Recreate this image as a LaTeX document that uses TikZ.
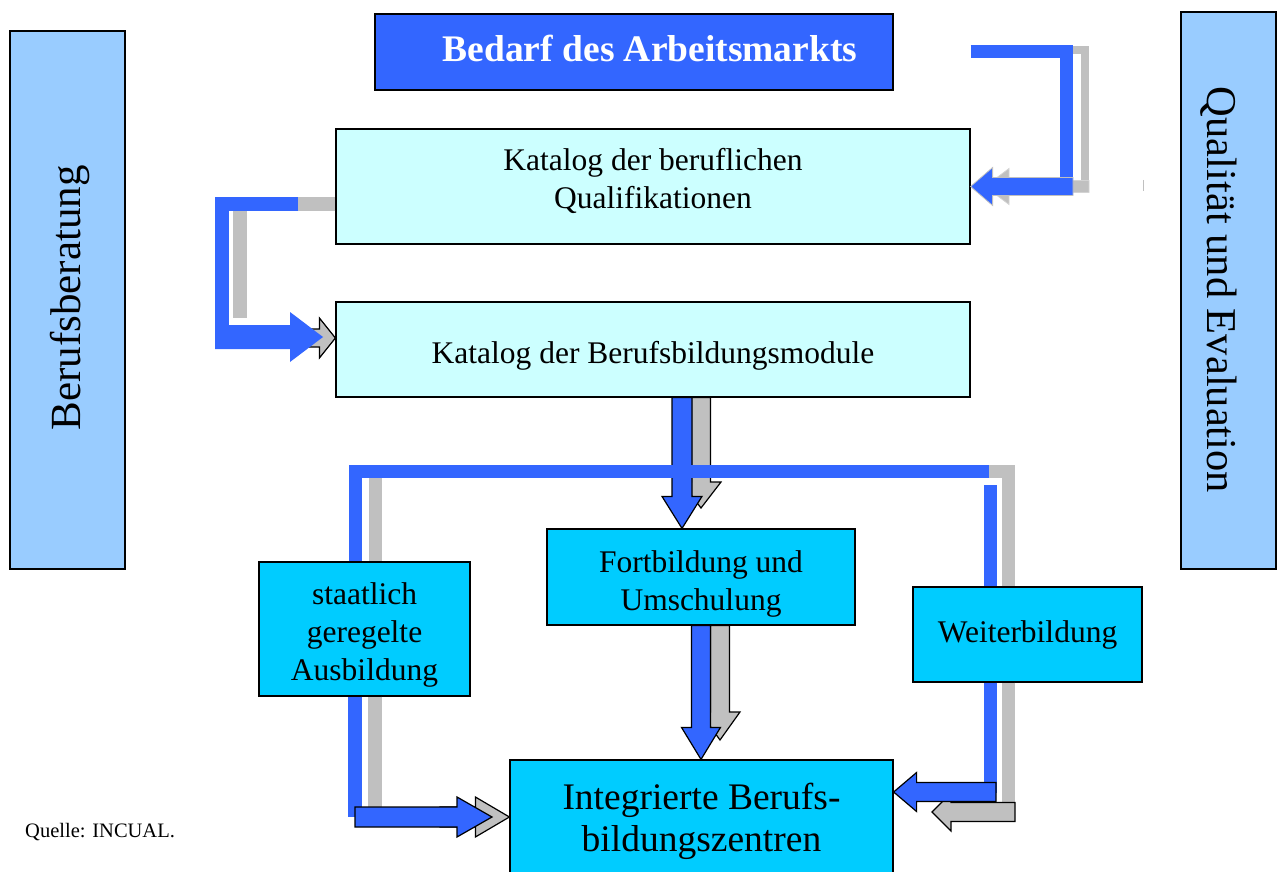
\documentclass[tikz,border=0pt]{standalone}
\usepackage{fontspec}
\setmainfont{Liberation Serif}
\usetikzlibrary{calc}
\definecolor{arrblue}{RGB}{51,102,255}
\definecolor{shadegray}{RGB}{192,192,192}
\definecolor{palecyan}{RGB}{204,255,255}
\definecolor{boxcyan}{RGB}{0,204,255}
\definecolor{sideblue}{RGB}{153,204,255}
% block arrow: [style]{start}{tip}{shaft half width}{head half width}{head length}
\newcommand\blockarr[6][]{%
  \coordinate (ba-s) at (#2);
  \coordinate (ba-t) at (#3);
  \coordinate (ba-b) at ($(ba-t)!#6!(ba-s)$);
  \path[#1] ($(ba-s)!#4!90:(ba-t)$) -- ($(ba-b)!#4!90:(ba-t)$) -- ($(ba-b)!#5!90:(ba-t)$)
    -- (ba-t) -- ($(ba-b)!#5!-90:(ba-t)$) -- ($(ba-b)!#4!-90:(ba-t)$) -- ($(ba-s)!#4!-90:(ba-t)$) -- cycle;}
\begin{document}
\begin{tikzpicture}[x=1pt,y=-1pt,every node/.style={inner sep=0pt},
  sidebox/.style={draw=black,line width=1.2pt,fill=sideblue},
  katbox/.style={draw=black,line width=1.2pt,fill=palecyan,align=center,font=\fontsize{31.5}{38}\selectfont},
  pathbox/.style={draw=black,line width=1.2pt,fill=boxcyan,align=center,font=\fontsize{31.5}{38}\selectfont},
  bluebar/.style={draw=arrblue,line width=13pt},
  graybar/.style={draw=shadegray,line width=13pt},
  bluearr/.style={fill=arrblue,draw=black,line width=1.2pt},
  grayarr/.style={fill=shadegray,draw=black,line width=1.2pt},
  softblue/.style={fill=arrblue,draw=shadegray,line width=0.8pt},
  softgray/.style={fill=shadegray,draw=shadegray!70,line width=0.8pt}]
\useasboundingbox (0,0) rectangle (1278,872);
% side columns
\node[sidebox,minimum width=115pt,minimum height=538pt] (beratung) at (67.5,300) {};
\node[rotate=90,font=\fontsize{43}{48}\selectfont] at (70,298) {Berufsberatung};
\node[sidebox,minimum width=95pt,minimum height=557pt] (qualitaet) at (1228.5,290.5) {};
\node[rotate=-90,font=\fontsize{42.5}{48}\selectfont] at (1218.5,290) {Qualität und Evaluation};
% top title
\node[draw=black,line width=2pt,fill=arrblue,minimum width=518pt,minimum height=76pt] (bedarf) at (634,52) {};
\node[text=white,font=\fontsize{37.5}{42}\selectfont\bfseries] at (650,48) {Bedarf des Arbeitsmarkts};
% catalogues
\node[katbox,minimum width=634pt,minimum height=115pt,text height=60pt,text depth=16.5pt] (qualif) at (653,186.5) {Katalog der beruflichen\\Qualifikationen};
\node[katbox,minimum width=634pt,minimum height=95pt,text height=35pt,text depth=7pt] (module) at (653,349.5) {Katalog der Berufsbildungsmodule};
% training paths
\node[pathbox,minimum width=308pt,minimum height=96pt,text height=72pt,text depth=5.5pt] (fortb) at (701,577) {Fortbildung und\\Umschulung};
\node[pathbox,minimum width=211pt,minimum height=134pt,text height=108pt,text depth=5.5pt] (staatl) at (364.5,629) {staatlich\\geregelte\\Ausbildung};
\node[pathbox,minimum width=229pt,minimum height=95pt] (weiter) at (1027.5,634.5) {Weiterbildung};
\node[pathbox,minimum width=383pt,minimum height=122pt,font=\fontsize{37.5}{42}\selectfont] (zentren) at (701.5,821) {Integrierte Berufs-\\bildungszentren};
\node[anchor=west,font=\fontsize{20.5}{24}\selectfont] (quelle) at (25,832) {Quelle: INCUAL.};
% top right loop back to the qualifications
\draw[graybar,line width=8pt] (1060,50) -- (1085,50) -- (1085,186.5);
\blockarr[softgray]{1089,186.5}{985,186.5}{6pt}{18pt}{24pt}
\draw[bluebar] (qualif.east |- bedarf.center) -- (1066,52) -- (1066,180);
\blockarr[softblue]{1073,186.5}{qualif.east}{9pt}{19pt}{22pt}
\draw[shadegray,line width=1pt] (1143,180) -- (1143,191);
% left loop to the modules
\draw[graybar,line width=14pt] (qualif.west |- 0,204) -- (240,204) -- (240,318);
\blockarr[grayarr]{300,338}{module.west |- 0,338}{9pt}{20pt}{16pt}
\draw[bluebar,line width=14pt] (298,204) -- (222,204) -- (222,337);
\blockarr[fill=arrblue]{215,337}{323,337}{12pt}{25pt}{33pt}
% modules down to the paths
\blockarr[grayarr]{701,0 |- module.south}{701,508}{9.5pt}{20pt}{26pt}
\blockarr[bluearr]{682,0 |- module.south}{682,0 |- fortb.north}{10pt}{20pt}{32pt}
\draw[graybar] (375,478) -- (375,0 |- staatl.north);
\draw[graybar] (975,471) -- (1008,471) -- (1008,0 |- weiter.north);
\draw[bluebar] (355,0 |- staatl.north) -- (355,471) -- (989,471);
\draw[bluebar] (990,485) -- (990,0 |- weiter.north);
% paths down to the centres
\blockarr[grayarr]{720,0 |- fortb.south}{720,740}{9.5pt}{20pt}{28pt}
\blockarr[bluearr]{fortb.south}{fortb.south |- zentren.north}{9.5pt}{19.5pt}{32pt}
\draw[graybar,line width=14pt] (375,0 |- staatl.south) -- (375,807);
\draw[bluebar,line width=14pt] (355,0 |- staatl.south) -- (355,817);
\blockarr[grayarr]{440,817}{zentren.west |- 0,817}{10pt}{20pt}{34pt}
\blockarr[bluearr]{355,817}{492,817}{10pt}{20pt}{35pt}
\draw[graybar] (1008,0 |- weiter.south) -- (1008,812);
\blockarr[grayarr]{1015,812}{932,812}{9.5pt}{19pt}{19pt}
\draw[bluebar] (990,0 |- weiter.south) -- (990,793);
\blockarr[bluearr]{996,792}{zentren.east |- 0,792}{9.5pt}{19.5pt}{23pt}
\end{tikzpicture}
\end{document}
